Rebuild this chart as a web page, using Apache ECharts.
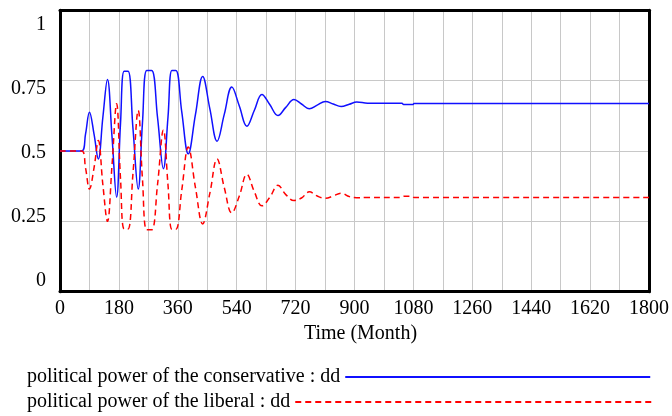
<!DOCTYPE html>
<html>
<head>
<meta charset="utf-8">
<script src="https://cdn.jsdelivr.net/npm/echarts@6/dist/echarts.min.js"></script>
<style>html,body{margin:0;padding:0;background:#fff}#chart{width:672px;height:416px}</style>
</head>
<body>
<div id="chart"></div>
<script>
// ---- data ----
const months = [0, 66, 78, 90, 104, 117, 131, 145, 159, 173, 185, 196, 208, 223, 239, 252, 265, 280, 298, 316, 330, 342, 354, 372, 392, 414, 436, 458, 480, 502, 525, 548, 571, 594, 617, 641, 666, 690, 715, 738, 762, 786, 811, 835, 859, 884, 907, 940, 1045, 1050, 1078, 1082, 1800];
const conservative = [0.5, 0.5, 0.56, 0.638, 0.56, 0.472, 0.62, 0.754, 0.55, 0.336, 0.60, 0.783, 0.783, 0.58, 0.365, 0.60, 0.786, 0.786, 0.62, 0.437, 0.62, 0.786, 0.786, 0.64, 0.49, 0.63, 0.765, 0.65, 0.535, 0.63, 0.727, 0.66, 0.588, 0.645, 0.701, 0.665, 0.626, 0.655, 0.683, 0.667, 0.650, 0.663, 0.676, 0.667, 0.658, 0.666, 0.674, 0.670, 0.670, 0.665, 0.665, 0.669, 0.669];
const liberal = [0.5, 0.5, 0.44, 0.365, 0.44, 0.537, 0.38, 0.25, 0.45, 0.668, 0.40, 0.223, 0.223, 0.42, 0.644, 0.40, 0.220, 0.220, 0.38, 0.575, 0.38, 0.222, 0.222, 0.36, 0.514, 0.37, 0.241, 0.35, 0.472, 0.37, 0.28, 0.34, 0.417, 0.355, 0.305, 0.335, 0.378, 0.345, 0.324, 0.333, 0.355, 0.340, 0.332, 0.340, 0.350, 0.338, 0.334, 0.335, 0.335, 0.339, 0.339, 0.335, 0.335];
const seriesNames = ['political power of the conservative : dd', 'political power of the liberal : dd'];
const yTickValues = [0, 0.25, 0.5, 0.75, 1];
const xTitle = 'Time (Month)';

const font = 'Liberation Serif';
const pair = (vals) => months.map((m, i) => [m, vals[i]]);

const chart = echarts.init(document.getElementById('chart'), null, {renderer: 'canvas'});
const frameLine = {show: true, onZero: false, lineStyle: {color: '#000', width: 3}};
chart.setOption({
  animation: false,
  backgroundColor: '#fff',
  grid: {left: 60, top: 10.3, right: 22.3, bottom: 124.3, containLabel: false},
  xAxis: [
    {
      type: 'value', min: 0, max: 1800, interval: 180, position: 'bottom', z: 3,
      axisLine: frameLine, axisTick: {show: false},
      axisLabel: {color: '#000', fontFamily: font, fontSize: 20, margin: 7, formatter: (v) => String(v)},
      splitLine: {show: true, lineStyle: {color: '#c8c8c8', width: 1}},
      minorTick: {show: false, splitNumber: 2},
      minorSplitLine: {show: true, lineStyle: {color: '#c8c8c8', width: 1}},
      name: xTitle, nameLocation: 'middle', nameGap: 28,
      nameTextStyle: {color: '#000', fontFamily: font, fontSize: 20, padding: [0, 0, 0, 12]}
    },
    {
      type: 'value', min: 0, max: 1800, position: 'top', z: 3,
      axisLine: frameLine, axisTick: {show: false}, axisLabel: {show: false}, splitLine: {show: false}
    }
  ],
  yAxis: [
    {
      type: 'value', min: 0, max: 1, interval: 0.25, position: 'left', z: 3,
      axisLine: frameLine, axisTick: {show: false}, axisLabel: {show: false},
      splitLine: {show: true, lineStyle: {color: '#c8c8c8', width: 1}}
    },
    {
      type: 'value', min: 0, max: 1, position: 'right', z: 3,
      axisLine: frameLine, axisTick: {show: false}, axisLabel: {show: false}, splitLine: {show: false}
    },
    {
      type: 'value', min: -0.04297, max: 1.0547, position: 'left',
      axisLine: {show: false}, axisTick: {show: false}, splitLine: {show: false},
      axisLabel: {
        show: true, customValues: yTickValues, color: '#000', fontFamily: font, fontSize: 20, margin: 14,
        formatter: (v) => String(v)
      }
    }
  ],
  legend: [
    {
      data: [seriesNames[0]], left: 27, top: 367, orient: 'vertical', align: 'right', padding: 0,
      itemWidth: 305, itemHeight: 20, itemStyle: {opacity: 0},
      textStyle: {color: '#000', fontFamily: font, fontSize: 20, lineHeight: 20}
    },
    {
      data: [seriesNames[1]], left: 27, top: 392, orient: 'vertical', align: 'right', padding: 0,
      itemWidth: 356, itemHeight: 20, itemStyle: {opacity: 0},
      textStyle: {color: '#000', fontFamily: font, fontSize: 20, lineHeight: 20}
    }
  ],
  series: [
    {
      name: seriesNames[0], type: 'line', xAxisIndex: 0, yAxisIndex: 0,
      data: pair(conservative), symbol: 'none', smooth: 0.4,
      lineStyle: {color: '#1010ff', width: 1.5, type: 'solid'}, itemStyle: {color: '#1010ff'}
    },
    {
      name: seriesNames[1], type: 'line', xAxisIndex: 0, yAxisIndex: 0,
      data: pair(liberal), symbol: 'none', smooth: 0.4,
      lineStyle: {color: '#ff0000', width: 1.5, type: [6, 4]}, itemStyle: {color: '#ff0000'}
    }
  ]
});
</script>
</body>
</html>
